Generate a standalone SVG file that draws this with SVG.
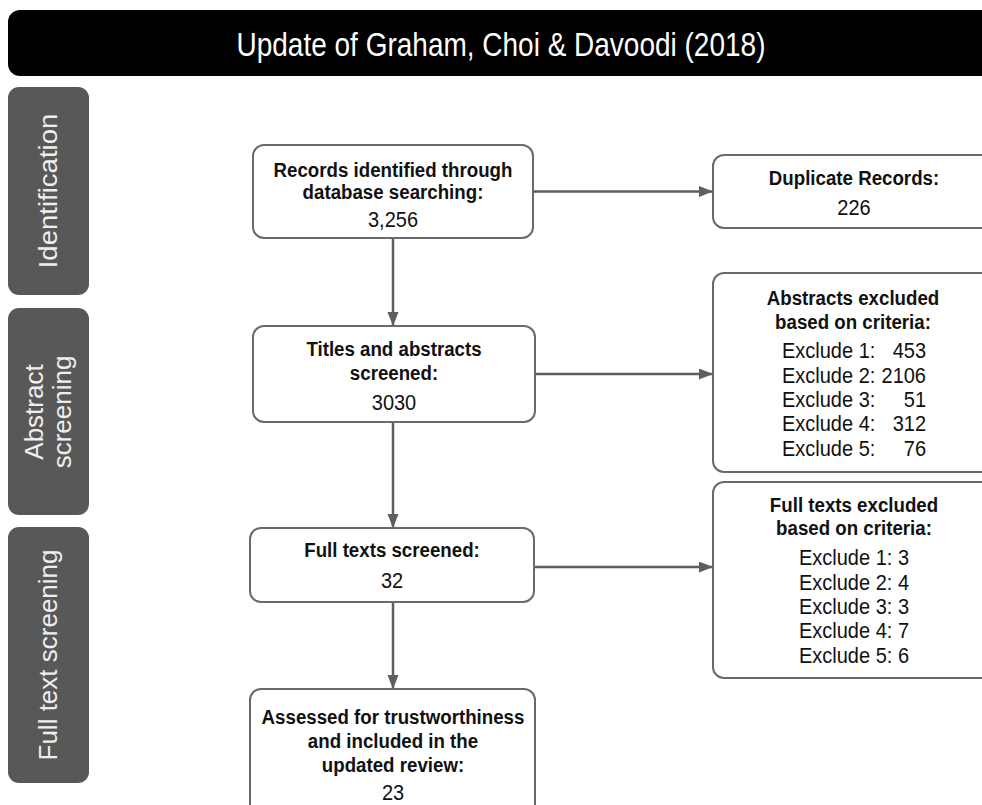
<svg xmlns="http://www.w3.org/2000/svg" width="982" height="805" viewBox="0 0 982 805">
  <style>
    .box { fill: #ffffff; stroke: #6a6a6a; stroke-width: 2; }
    .side { fill: #585858; }
    .side-t { fill: #eeeeee; font-family: "Liberation Sans", Arial, sans-serif; font-size: 26px; text-anchor: middle; }
    .b { font-family: "Liberation Sans", Arial, sans-serif; font-weight: bold; font-size: 18.7px; fill: #111111; text-anchor: middle; }
    .r { font-family: "Liberation Sans", Arial, sans-serif; font-size: 20px; fill: #111111; text-anchor: middle; }
    .rl { font-family: "Liberation Sans", Arial, sans-serif; font-size: 20px; fill: #111111; }
    .rr { font-family: "Liberation Sans", Arial, sans-serif; font-size: 20px; fill: #111111; text-anchor: end; }
    .conn { stroke: #5e5e5e; stroke-width: 2.5; fill: none; marker-end: url(#arrow); }
  </style>
  <defs>
    <marker id="arrow" markerUnits="userSpaceOnUse" markerWidth="15" markerHeight="12" refX="14" refY="5.5" orient="auto">
      <path d="M0,0 L14,5.5 L0,11 Z" fill="#5e5e5e"/>
    </marker>
  </defs>

  <rect width="982" height="805" fill="#ffffff"/>

  <!-- title bar -->
  <g id="title">
    <rect x="8" y="10" width="1000" height="66" rx="12" fill="#000000"/>
    <text transform="translate(501,56) scale(1,1.18)" font-family="'Liberation Sans', Arial, sans-serif" font-size="28" fill="#ffffff" text-anchor="middle">Update of Graham, Choi &amp; Davoodi (2018)</text>
  </g>

  <!-- stage labels (text runs bottom to top) -->
  <g id="stage-identification">
    <rect class="side" x="8" y="87" width="81" height="208" rx="11"/>
    <text class="side-t" transform="translate(57,191) rotate(-90) scale(1.06,1)" font-size="28">Identification</text>
  </g>
  <g id="stage-abstract">
    <rect class="side" x="8" y="308" width="81" height="207" rx="11"/>
    <text class="side-t" transform="translate(43,412) rotate(-90)">Abstract</text>
    <text class="side-t" transform="translate(71,412) rotate(-90)">screening</text>
  </g>
  <g id="stage-fulltext">
    <rect class="side" x="8" y="527" width="81" height="256" rx="11"/>
    <text class="side-t" transform="translate(57,655) rotate(-90)">Full text screening</text>
  </g>

  <!-- connectors -->
  <g id="connectors">
    <line class="conn" x1="534" y1="191.5" x2="713" y2="191.5"/>
    <line class="conn" x1="393" y1="239" x2="393" y2="326"/>
    <line class="conn" x1="536" y1="374" x2="713" y2="374"/>
    <line class="conn" x1="393" y1="423" x2="393" y2="528"/>
    <line class="conn" x1="535" y1="567" x2="713" y2="567"/>
    <line class="conn" x1="393" y1="603" x2="393" y2="689"/>
  </g>

  <!-- main flow; labels are stretched slightly in height -->
  <g id="records">
    <rect class="box" x="253" y="145" width="280" height="93" rx="11"/>
    <text class="b" transform="translate(393,177) scale(1,1.12)">Records identified through</text>
    <text class="b" transform="translate(393,199) scale(1,1.12)">database searching:</text>
    <text class="r" transform="translate(393,227) scale(1,1.12)">3,256</text>
  </g>
  <g id="titles-abstracts">
    <rect class="box" x="253" y="326" width="282" height="96" rx="11"/>
    <text class="b" transform="translate(394,356) scale(1,1.12)">Titles and abstracts</text>
    <text class="b" transform="translate(394,380) scale(1,1.12)">screened:</text>
    <text class="r" transform="translate(394,410) scale(1,1.12)">3030</text>
  </g>
  <g id="full-texts">
    <rect class="box" x="250" y="528" width="284" height="74" rx="11"/>
    <text class="b" transform="translate(392,557) scale(1,1.12)">Full texts screened:</text>
    <text class="r" transform="translate(392,588) scale(1,1.12)">32</text>
  </g>
  <g id="included">
    <rect class="box" x="250" y="689" width="285" height="130" rx="11"/>
    <text class="b" transform="translate(393,724) scale(1,1.12)">Assessed for trustworthiness</text>
    <text class="b" transform="translate(393,748) scale(1,1.12)">and included in the</text>
    <text class="b" transform="translate(393,772) scale(1,1.12)">updated review:</text>
    <text class="r" transform="translate(393,800) scale(1,1.12)">23</text>
  </g>

  <!-- exclusions -->
  <g id="duplicates">
    <rect class="box" x="713" y="155" width="282" height="73" rx="11"/>
    <text class="b" transform="translate(854,185) scale(1,1.12)">Duplicate Records:</text>
    <text class="r" transform="translate(854,215) scale(1,1.12)">226</text>
  </g>
  <g id="abstracts-excluded">
    <rect class="box" x="713" y="273" width="282" height="199" rx="11"/>
    <text class="b" transform="translate(853,305) scale(1,1.12)">Abstracts excluded</text>
    <text class="b" transform="translate(853,329) scale(1,1.12)">based on criteria:</text>
    <text class="rl" transform="translate(782,358) scale(1,1.12)">Exclude 1:</text><text class="rr" transform="translate(926,358) scale(1,1.12)">453</text>
    <text class="rl" transform="translate(782,383) scale(1,1.12)">Exclude 2:</text><text class="rr" transform="translate(926,383) scale(1,1.12)">2106</text>
    <text class="rl" transform="translate(782,407) scale(1,1.12)">Exclude 3:</text><text class="rr" transform="translate(926,407) scale(1,1.12)">51</text>
    <text class="rl" transform="translate(782,431) scale(1,1.12)">Exclude 4:</text><text class="rr" transform="translate(926,431) scale(1,1.12)">312</text>
    <text class="rl" transform="translate(782,456) scale(1,1.12)">Exclude 5:</text><text class="rr" transform="translate(926,456) scale(1,1.12)">76</text>
  </g>
  <g id="fulltexts-excluded">
    <rect class="box" x="713" y="482" width="282" height="196" rx="11"/>
    <text class="b" transform="translate(854,512) scale(1,1.12)">Full texts excluded</text>
    <text class="b" transform="translate(854,535) scale(1,1.12)">based on criteria:</text>
    <text class="r" transform="translate(854,565) scale(1,1.12)">Exclude 1: 3</text>
    <text class="r" transform="translate(854,590) scale(1,1.12)">Exclude 2: 4</text>
    <text class="r" transform="translate(854,614) scale(1,1.12)">Exclude 3: 3</text>
    <text class="r" transform="translate(854,638) scale(1,1.12)">Exclude 4: 7</text>
    <text class="r" transform="translate(854,663) scale(1,1.12)">Exclude 5: 6</text>
  </g>
</svg>
